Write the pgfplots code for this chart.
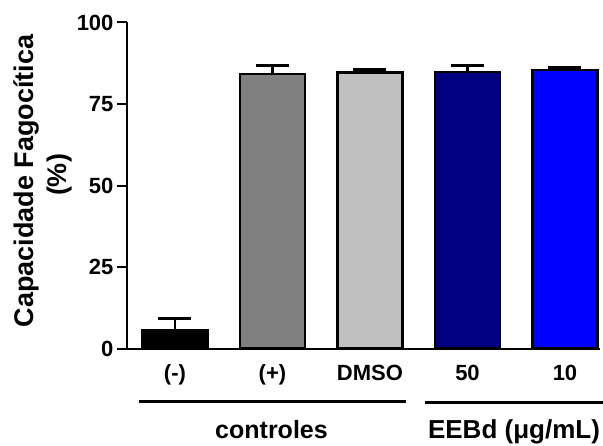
\documentclass[border=0pt]{standalone}
\usepackage{fontspec}
\setmainfont{Liberation Sans}
\usepackage{pgfplots}
\pgfplotsset{compat=1.18}
\definecolor{gr1}{RGB}{128,128,128}
\definecolor{gr2}{RGB}{192,192,192}
\definecolor{nv}{RGB}{0,0,128}
\definecolor{bl}{RGB}{0,0,255}
\begin{document}
\begin{tikzpicture}[x=1pt,y=1pt,font=\bfseries\fontsize{22}{26}\selectfont]
\useasboundingbox (0,0) rectangle (603,445);
\begin{axis}[
  at={(127pt,96.5pt)}, anchor=south west,
  scale only axis, width=473pt, height=326pt,
  xmin=-0.492, xmax=4.359, ymin=0, ymax=100,
  axis x line*=bottom, axis y line*=left,
  axis line style={line width=2pt, black},
  ytick={0,25,50,75,100},
  xtick={0,1,2,3,4},
  xticklabels={(-),(+),DMSO,50,10},
  tick align=outside,
  major tick length=10pt,
  tick style={line width=2pt, black},
  x tick style={draw=none},
  xticklabel style={anchor=base, yshift=-22pt},
  /pgf/number format/assume math mode=true,
  clip=false,
  error bars/error bar style={line width=2.5pt, black},
  error bars/error mark options={rotate=90, mark size=16.5pt, line width=3.2pt, black},
]
\addplot[ybar, bar width=65pt, bar shift=0pt, fill=black, draw=black, line width=2.7pt,
  error bars/.cd, y dir=plus, y explicit] coordinates {(0,5.5) +- (0,3.8)};
\addplot[ybar, bar width=65pt, bar shift=0pt, fill=gr1, draw=black, line width=2.7pt,
  error bars/.cd, y dir=plus, y explicit] coordinates {(1,84.2) +- (0,2.5)};
\addplot[ybar, bar width=65pt, bar shift=0pt, fill=gr2, draw=black, line width=2.7pt,
  error bars/.cd, y dir=plus, y explicit] coordinates {(2,84.6) +- (0,0.9)};
\addplot[ybar, bar width=65pt, bar shift=0pt, fill=nv, draw=black, line width=2.7pt,
  error bars/.cd, y dir=plus, y explicit] coordinates {(3,84.8) +- (0,2.1)};
\addplot[ybar, bar width=65pt, bar shift=0pt, fill=bl, draw=black, line width=2.7pt,
  error bars/.cd, y dir=plus, y explicit] coordinates {(4,85.4) +- (0,0.7)};
\end{axis}
\draw[line width=3.3pt] (139,43.3) -- (406,43.3);
\draw[line width=3.3pt] (425,42.5) -- (603,42.5);
\node[anchor=base, font=\bfseries\fontsize{25}{30}\selectfont] at (271.5,7) {controles};
\node[anchor=base, font=\bfseries\fontsize{26}{30}\selectfont] at (514,7) {EEBd (μg/mL)};
\node[rotate=90, anchor=base, font=\bfseries\fontsize{27}{32}\selectfont] at (33,264) {Capacidade Fagocítica};
\node[rotate=90, anchor=base, font=\bfseries\fontsize{27}{32}\selectfont] at (66,270) {(\%)};
\end{tikzpicture}
\end{document}
